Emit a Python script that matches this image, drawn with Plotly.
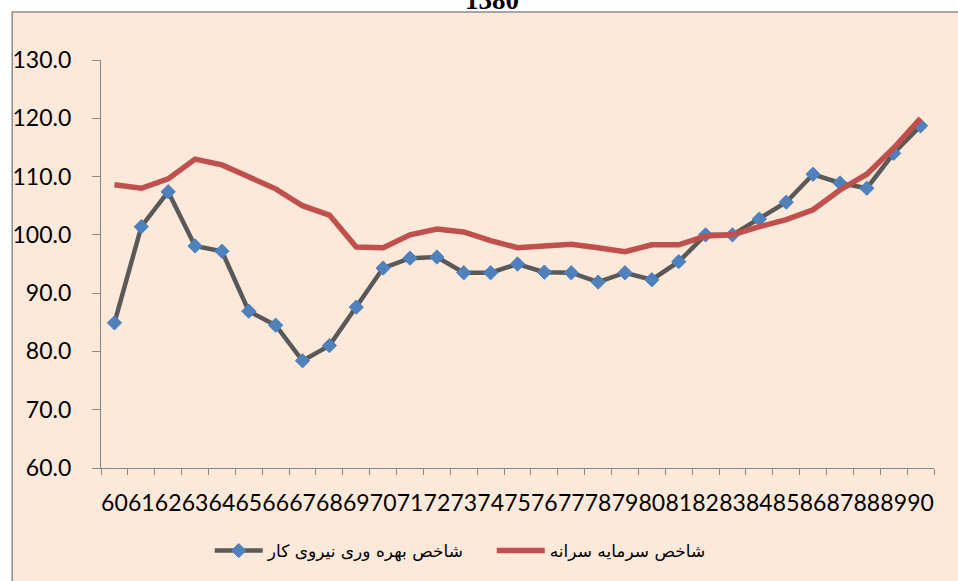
import plotly.graph_objects as go

years = ["60", "61", "62", "63", "64", "65", "66", "67", "68", "69", "70",
         "71", "72", "73", "74", "75", "76", "77", "78", "79", "80",
         "81", "82", "83", "84", "85", "86", "87", "88", "89", "90"]

labor_productivity = [84.9, 101.4, 107.4, 98.1, 97.2, 86.9, 84.5, 78.4, 81.0, 87.6, 94.3,
                      96.0, 96.2, 93.5, 93.5, 95.0, 93.6, 93.5, 91.9, 93.5, 92.3,
                      95.4, 100.0, 100.0, 102.7, 105.6, 110.4, 108.9, 108.0, 114.0, 118.7]

capital_per_capita = [108.6, 108.0, 109.6, 113.0, 112.0, 109.9, 107.9, 105.0, 103.4, 97.9, 97.8,
                      100.0, 101.0, 100.5, 99.0, 97.8, 98.1, 98.4, 97.8, 97.1, 98.3,
                      98.3, 99.8, 100.0, 101.4, 102.6, 104.3, 107.7, 110.4, 114.9, 120.0]

name_labor = "شاخص بهره وری نیروی کار"
name_capital = "شاخص سرمایه سرانه"
title_text = "1380"
y_ticks = [60, 70, 80, 90, 100, 110, 120, 130]

W, H = 958, 581
L, R, T, B = 99, 958 - 934, 60, 581 - 468
pw, ph = W - L - R, H - T - B

def px_x(p):
    return (p - L) / pw

def px_y(p):
    return (H - B - p) / ph

fig = go.Figure()
fig.add_trace(go.Scatter(
    x=years, y=labor_productivity, name=name_labor, mode="lines+markers",
    line=dict(color="#595959", width=4.5),
    marker=dict(symbol="diamond", size=11, color="#4F81BD",
                line=dict(color="#4F81BD", width=1)),
))
fig.add_trace(go.Scatter(
    x=years, y=capital_per_capita, name=name_capital, mode="lines",
    line=dict(color="#C0504D", width=5.5),
))

axis_gray = "#878787"
fig.update_layout(
    width=W, height=H,
    margin=dict(l=L, r=R, t=T, b=B, pad=0),
    paper_bgcolor="#FFFFFF",
    plot_bgcolor="#EBF1DE",
    font=dict(family="Lato, DejaVu Sans, sans-serif", color="#000000"),
    showlegend=True,
    legend=dict(
        orientation="h", x=px_x(208), xanchor="left", y=px_y(533), yanchor="top",
        font=dict(family="DejaVu Sans, sans-serif", size=17, color="#000000"),
        bgcolor="rgba(0,0,0,0)", itemwidth=48, entrywidth=219,
    ),
    xaxis=dict(
        type="category", tickmode="array", tickvals=years, ticktext=years,
        tickangle=0, tickson="boundaries", ticks="outside", ticklen=6,
        tickcolor=axis_gray, tickwidth=1.3,
        showline=True, linecolor=axis_gray, linewidth=1.3,
        showgrid=False, zeroline=False,
        tickfont=dict(family="Lato, sans-serif", size=23, color="#000000"),
        ticklabelstandoff=14,
        range=[-0.5, len(years) - 0.5],
    ),
    yaxis=dict(
        range=[60, 130], tickmode="array", tickvals=y_ticks,
        ticktext=[f"{v:.1f}" for v in y_ticks],
        ticks="outside", ticklen=8, tickcolor=axis_gray, tickwidth=1.3,
        showline=True, linecolor=axis_gray, linewidth=1.3,
        showgrid=False, zeroline=False,
        tickfont=dict(family="Lato, sans-serif", size=23, color="#000000"),
        ticklabelstandoff=16,
    ),
    shapes=[dict(
        type="rect", xref="paper", yref="paper", layer="below",
        x0=px_x(10), x1=px_x(W + 10), y0=px_y(12), y1=px_y(H + 10),
        fillcolor="#FDE9D9", line=dict(color="#8C8C8C", width=1.5),
    )],
    annotations=[dict(
        text=f"<b>{title_text}</b>", xref="paper", yref="paper",
        x=px_x(491), y=px_y(17), xanchor="center", yanchor="bottom",
        showarrow=False,
        font=dict(family="Liberation Serif, Times New Roman, serif", size=27, color="#000000"),
    )],
)

fig.write_html("out.html", config={"displayModeBar": False},
               post_script="document.body.style.margin='0px';")
